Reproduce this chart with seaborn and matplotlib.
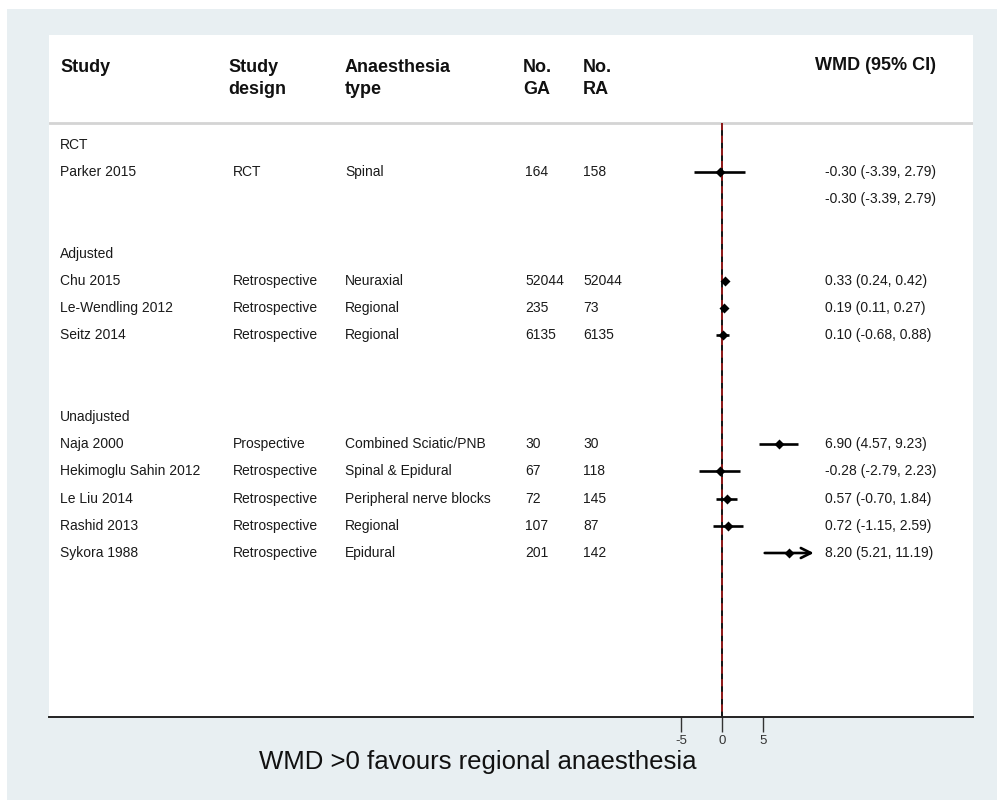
import matplotlib
matplotlib.use("Agg")
import matplotlib.pyplot as plt
import matplotlib.transforms as mtransforms
from matplotlib.patches import Rectangle
import seaborn as sns
import pandas as pd

# ---- data -------------------------------------------------------------
studies = ["Parker 2015", "Chu 2015", "Le-Wendling 2012", "Seitz 2014",
           "Naja 2000", "Hekimoglu Sahin 2012", "Le Liu 2014",
           "Rashid 2013", "Sykora 1988"]
groups = ["RCT", "Adjusted", "Adjusted", "Adjusted", "Unadjusted",
          "Unadjusted", "Unadjusted", "Unadjusted", "Unadjusted"]
designs = ["RCT", "Retrospective", "Retrospective", "Retrospective",
           "Prospective", "Retrospective", "Retrospective",
           "Retrospective", "Retrospective"]
anaesthesia = ["Spinal", "Neuraxial", "Regional", "Regional",
               "Combined Sciatic/PNB", "Spinal & Epidural",
               "Peripheral nerve blocks", "Regional", "Epidural"]
n_ga = [164, 52044, 235, 6135, 30, 67, 72, 107, 201]
n_ra = [158, 52044, 73, 6135, 30, 118, 145, 87, 142]
wmd = [-0.30, 0.33, 0.19, 0.10, 6.90, -0.28, 0.57, 0.72, 8.20]
ci_low = [-3.39, 0.24, 0.11, -0.68, 4.57, -2.79, -0.70, -1.15, 5.21]
ci_high = [2.79, 0.42, 0.27, 0.88, 9.23, 2.23, 1.84, 2.59, 11.19]

group_names = ["RCT", "Adjusted", "Unadjusted"]
subgroup_wmd = {"RCT": (-0.30, -3.39, 2.79)}

x_ticks = [-5, 0, 5]
x_label = "WMD >0 favours regional anaesthesia"
headers = [("Study", 60), ("Study\ndesign", 228), ("Anaesthesia\ntype", 345),
           ("No.\nGA", 523), ("No.\nRA", 583)]

# ---- row layout -------------------------------------------------------
# blank rows inserted after each subgroup block
gap_after = {"RCT": 1, "Adjusted": 2, "Unadjusted": 0}
row = 0
group_rows, study_rows, summary_rows = {}, [None] * len(studies), {}
for g in group_names:
    group_rows[g] = row
    row += 1
    for i, sg in enumerate(groups):
        if sg == g:
            study_rows[i] = row
            row += 1
    if g in subgroup_wmd:
        summary_rows[g] = row
        row += 1
    row += gap_after[g]

df = pd.DataFrame({"study": studies, "group": groups, "wmd": wmd,
                   "lo": ci_low, "hi": ci_high, "row": study_rows})

# ---- figure -----------------------------------------------------------
sns.set_style("white")
plt.rcParams["font.family"] = ["Liberation Sans", "DejaVu Sans"]

W, H = 997, 802
fig = plt.figure(figsize=(W / 100, H / 100), dpi=100, facecolor="white")

panel_color = "#e8eff2"
fig.patches.append(Rectangle((7 / W, 2 / H), (W - 7) / W, (800 - 9) / H,
                             transform=fig.transFigure, facecolor=panel_color,
                             edgecolor="none", zorder=-5))

left_px, right_px, top_px, bottom_px = 49, 973, 35, 717
ax = fig.add_axes([left_px / W, 1 - bottom_px / H,
                   (right_px - left_px) / W, (bottom_px - top_px) / H])
ax.set_zorder(2)
ax.set_facecolor("white")

zero_px, px_per_unit = 722, 8.2
ax.set_xlim((left_px - zero_px) / px_per_unit, (right_px - zero_px) / px_per_unit)
row0_px, row_step = 145, 27.2
ax.set_ylim((bottom_px - row0_px) / row_step, (top_px - row0_px) / row_step)

for s in ["top", "left", "right"]:
    ax.spines[s].set_visible(False)
ax.spines["bottom"].set_linewidth(1.4)
ax.spines["bottom"].set_color("#222222")

# header separator and reference lines
sep_row = (123 - row0_px) / row_step
ax.axhline(sep_row, color="#d4d4d4", lw=2.0, zorder=1)
y_bottom = ax.get_ylim()[0]
ax.vlines(0, sep_row, y_bottom, color="black", lw=1.3, zorder=2)
ax.vlines(0, sep_row, y_bottom, color="#9b1c1c", lw=1.3,
          linestyles=(0, (4, 3)), zorder=2.5)

# confidence intervals
arrow_limit = 10
for _, r in df.iterrows():
    if r["hi"] > arrow_limit:
        ax.annotate("", xy=(r["hi"], r["row"]), xytext=(r["lo"], r["row"]),
                    arrowprops=dict(arrowstyle="->", lw=1.9, color="black",
                                    shrinkA=0, shrinkB=0, mutation_scale=18),
                    zorder=3)
    else:
        ax.hlines(r["row"], r["lo"], r["hi"], color="black", lw=1.9, zorder=3)

sns.scatterplot(data=df, x="wmd", y="row", marker="D", s=26, color="black",
                edgecolor="black", linewidth=0, ax=ax, zorder=4, legend=False)
ax.set_ylabel("")

ax.set_xticks(x_ticks)
ax.set_xticklabels([str(t) for t in x_ticks])
ax.tick_params(axis="x", direction="out", length=11, width=1.0,
               color="#333333", labelsize=9.5, labelcolor="#333333", pad=2,
               bottom=True)
ax.set_yticks([])
ax.set_xlabel(x_label, fontsize=18.5, color="#111111")
ax.xaxis.set_label_coords((478 - left_px) / (right_px - left_px), -0.049)

# text columns
tr = mtransforms.blended_transform_factory(fig.transFigure, ax.transData)
head_row = (66 - row0_px) / row_step
for text, xp in headers:
    ax.text(xp / W, head_row + 0.05 if "\n" not in text else head_row + 0.45,
            text, transform=tr, fontsize=13, fontweight="bold",
            va="center", ha="left", linespacing=1.35, color="#111111")
ax.text(936 / W, head_row, "WMD (95% CI)", transform=tr, fontsize=13,
        fontweight="bold", va="center", ha="right", color="#111111")

fs = 10
txt_color = "#1a1a1a"
for g in group_names:
    ax.text(60 / W, group_rows[g], g, transform=tr, fontsize=fs,
            va="center", ha="left", color=txt_color)
for i in range(len(studies)):
    y = study_rows[i]
    ax.text(60 / W, y, studies[i], transform=tr, fontsize=fs, va="center",
            color=txt_color)
    ax.text(233 / W, y, designs[i], transform=tr, fontsize=fs, va="center",
            color=txt_color)
    ax.text(345 / W, y, anaesthesia[i], transform=tr, fontsize=fs,
            va="center", color=txt_color)
    ax.text(525 / W, y, str(n_ga[i]), transform=tr, fontsize=fs,
            va="center", color=txt_color)
    ax.text(583 / W, y, str(n_ra[i]), transform=tr, fontsize=fs,
            va="center", color=txt_color)
    ax.text(825 / W, y, f"{wmd[i]:.2f} ({ci_low[i]:.2f}, {ci_high[i]:.2f})",
            transform=tr, fontsize=fs, va="center", color=txt_color)
for g, (m, lo, hi) in subgroup_wmd.items():
    ax.text(825 / W, summary_rows[g], f"{m:.2f} ({lo:.2f}, {hi:.2f})",
            transform=tr, fontsize=fs, va="center", color=txt_color)

fig.savefig("out.png", dpi=100, facecolor=fig.get_facecolor())
